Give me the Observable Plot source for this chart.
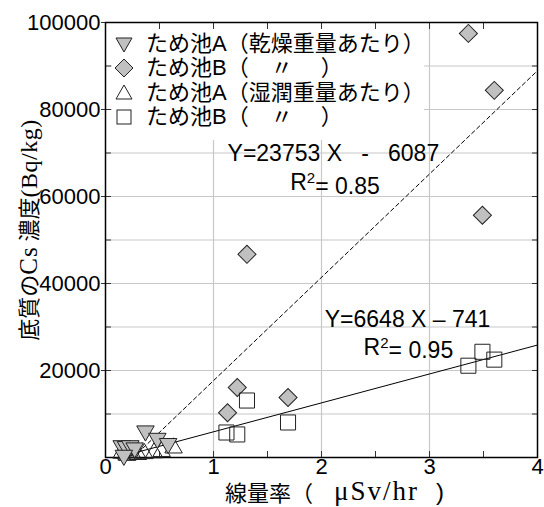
<!DOCTYPE html>
<html><head><meta charset="utf-8">
<script src="https://cdn.jsdelivr.net/npm/d3@7"></script>
<script src="https://cdn.jsdelivr.net/npm/@observablehq/plot@0.6"></script>
<style>
body{margin:0;background:#fff;}
#wrap{position:relative;width:544px;height:507px;overflow:hidden;}
#wrap svg text{white-space:pre;}
.legend{position:absolute;left:112px;top:29px;width:312px;height:111px;background:#fff;font-family:"Liberation Sans","Noto Sans CJK JP",sans-serif;font-size:22px;color:#000;}
.legend .row{position:absolute;left:0;height:24px;line-height:24px;white-space:pre;}
.legend svg{position:absolute;left:0;top:2px;}
.legend span{position:absolute;left:34px;top:0;}
.xt{position:absolute;line-height:normal;white-space:pre;color:#000;}
.serif{font-family:"Liberation Serif","DejaVu Serif",serif;}
.ytitle{position:absolute;left:28px;top:230px;transform:translate(-50%,-50%) rotate(-90deg);font-family:"Noto Sans CJK JP",sans-serif;font-size:22px;line-height:26px;white-space:pre;color:#000;}
</style></head><body><div id="wrap"></div>
<script>
// Pond A, dry weight basis (gray down-triangles)
const aDryX = [0.15, 0.19, 0.23, 0.27, 0.17, 0.37, 0.48, 0.58];
const aDryY = [2700, 2500, 2700, 2200, 500, 6100, 4400, 3200];
// Pond B, dry weight basis (gray diamonds)
const bDryX = [1.13, 1.22, 1.31, 1.69, 3.36, 3.49, 3.60];
const bDryY = [10300, 16100, 46700, 13800, 97500, 55700, 84400];
// Pond A, wet weight basis (open up-triangles)
const aWetX = [0.15, 0.19, 0.24, 0.30, 0.36, 0.45, 0.52, 0.63, 0.20];
const aWetY = [1000, 800, 1200, 700, 900, 1100, 1400, 2200, 500];
// Pond B, wet weight basis (open squares)
const bWetX = [1.12, 1.22, 1.31, 1.69, 3.36, 3.49, 3.60];
const bWetY = [5750, 5300, 13100, 8050, 21100, 24300, 22500];

// Trend lines: slope / intercept as printed, drawn over x range
const dryFitSlope = 23753, dryFitIntercept = -6087, dryFitRange = [0.3, 4];
const wetFitSlope = 6648, wetFitIntercept = -741, wetFitRange = [0.2, 4];

// Annotations
const eqText = ["Y=23753 X   -   6087", "R2= 0.85", "Y=6648 X – 741", "R2= 0.95"];
const eqX = [1.13, 1.71, 2.03, 2.39];
const eqY = [69900, 63200, 31700, 25300];

// Ticks
const xLabelTicks = [0, 1, 2, 3, 4];
const xMinorTicks = [0, 0.5, 1, 1.5, 2, 2.5, 3, 3.5, 4];
const xGridTicks = [1, 2, 3];
const yLabelTicks = [20000, 40000, 60000, 80000, 100000];
const yMinorTicks = [0, 10000, 20000, 30000, 40000, 50000, 60000, 70000, 80000, 90000, 100000];

const toPts = (xs, ys) => xs.map((x, i) => ({x, y: ys[i]}));
const fitLine = (m, b, r) => r.map(x => ({x, y: m * x + b}));
const ann = eqText.map((t, i) => ({t, x: eqX[i], y: eqY[i]}));

const grey = "#c0c0c0", ink = "#222";
const chart = Plot.plot({
  width: 544, height: 507,
  marginLeft: 105, marginRight: 7, marginTop: 22, marginBottom: 50,
  x: {domain: [0, 4]},
  y: {domain: [0, 100000]},
  style: {fontFamily: "'Liberation Sans', Arial, sans-serif", fontSize: "22px", color: "#000", background: "#fff", overflow: "visible"},
  marks: [
    Plot.gridX(xGridTicks, {stroke: "#c8c8c8", strokeOpacity: 1, strokeWidth: 1.2}),
    Plot.gridY(yMinorTicks.slice(1, -1), {stroke: "#c8c8c8", strokeOpacity: 1, strokeWidth: 1.2}),
    Plot.axisX(xMinorTicks, {anchor: "bottom", tickSize: -6, text: null, label: null, stroke: "#333"}),
    Plot.axisX(xMinorTicks, {anchor: "top", tickSize: -6, text: null, label: null, stroke: "#333"}),
    Plot.axisX(xLabelTicks, {anchor: "bottom", tickSize: 0, tickPadding: 1, label: null, fontSize: 22}),
    Plot.axisY(yMinorTicks, {anchor: "left", tickSize: -6, text: null, label: null, stroke: "#333"}),
    Plot.axisY(yMinorTicks, {anchor: "right", tickSize: -6, text: null, label: null, stroke: "#333"}),
    Plot.axisY(yLabelTicks, {anchor: "left", tickSize: 4, tickPadding: 1, label: null, fontSize: 22, tickFormat: d => String(d), stroke: "#333"}),
    Plot.frame({stroke: "#000", strokeWidth: 1.5}),
    Plot.line(fitLine(dryFitSlope, dryFitIntercept, dryFitRange), {x: "x", y: "y", stroke: "#000", strokeWidth: 1, strokeDasharray: "4,3"}),
    Plot.line(fitLine(wetFitSlope, wetFitIntercept, wetFitRange), {x: "x", y: "y", stroke: "#000", strokeWidth: 1}),
    Plot.dot(toPts(aWetX, aWetY), {x: "x", y: "y", symbol: "triangle", r: 6.5, fill: "none", stroke: ink, strokeWidth: 1}),
    Plot.dot(toPts(aDryX, aDryY), {x: "x", y: "y", symbol: "triangle", rotate: 180, r: 6.5, fill: grey, stroke: ink, strokeWidth: 1}),
    Plot.dot(toPts(bDryX, bDryY), {x: "x", y: "y", symbol: "square", rotate: 45, r: 7.2, fill: grey, stroke: ink, strokeWidth: 1}),
    Plot.dot(toPts(bWetX, bWetY), {x: "x", y: "y", symbol: "square", r: 8.5, fill: "none", stroke: ink, strokeWidth: 1}),
    Plot.text(ann, {x: "x", y: "y", text: "t", textAnchor: "start", fontSize: 23, fill: "#000"})
  ]
});

// superscript "2" in R2
chart.querySelectorAll("text").forEach(t => {
  const s = t.textContent;
  if (/^R2=/.test(s)) {
    t.textContent = "";
    const ns = "http://www.w3.org/2000/svg";
    const a = document.createElementNS(ns, "tspan"); a.textContent = "R";
    const b = document.createElementNS(ns, "tspan"); b.textContent = "2"; b.setAttribute("dy", "-0.45em"); b.setAttribute("font-size", "15");
    const c = document.createElementNS(ns, "tspan"); c.textContent = s.slice(2); c.setAttribute("dy", "0.45em");
    t.append(a, b, c);
  }
});

const wrap = document.getElementById("wrap");
wrap.appendChild(chart);

// Legend
const legendItems = [
  {label: "ため池A（乾燥重量あたり）", shape: "down"},
  {label: "ため池B（　〃　 ）", shape: "diamond"},
  {label: "ため池A（湿潤重量あたり）", shape: "up"},
  {label: "ため池B（　〃　 ）", shape: "square"}
];
const shapes = {
  down: '<path d="M2,4 L18,4 L10,18 Z" fill="#c0c0c0" stroke="#222"/>',
  diamond: '<path d="M10,1 L19,10 L10,19 L1,10 Z" fill="#c0c0c0" stroke="#222"/>',
  up: '<path d="M10,2 L18,16 L2,16 Z" fill="#fff" stroke="#222"/>',
  square: '<rect x="3" y="3" width="14" height="14" fill="#fff" stroke="#222"/>'
};
const leg = document.createElement("div");
leg.className = "legend";
legendItems.forEach((d, i) => {
  const row = document.createElement("div");
  row.className = "row";
  row.style.top = (3 + i * 24.3) + "px";
  row.innerHTML = `<svg width="20" height="20" style="left:2px">${shapes[d.shape]}</svg><span>${d.label}</span>`;
  leg.appendChild(row);
});
wrap.appendChild(leg);

// X-axis title in three pieces (mixed fonts)
const xParts = [
  {t: "線量率（", left: 225, top: 475, css: 'font-family:"Noto Sans CJK JP",sans-serif;font-size:22px;'},
  {t: "μSv/hr", left: 334, top: 476, css: 'font-family:"Liberation Serif",serif;font-size:27px;letter-spacing:2px;'},
  {t: ")", left: 436, top: 478, css: 'font-family:"Liberation Sans",sans-serif;font-size:24px;'}
];
xParts.forEach(p => {
  const s = document.createElement("div");
  s.className = "xt";
  s.style.cssText = p.css + `left:${p.left}px;top:${p.top}px;`;
  s.textContent = p.t;
  wrap.appendChild(s);
});

const yt = document.createElement("div");
yt.className = "ytitle";
yt.innerHTML = '底質の<span class="serif" style="font-size:25px;letter-spacing:1px">Cs</span> 濃度<span class="serif" style="font-size:24px;letter-spacing:0.5px">(Bq/kg)</span>';
wrap.appendChild(yt);
</script>
</body></html>
